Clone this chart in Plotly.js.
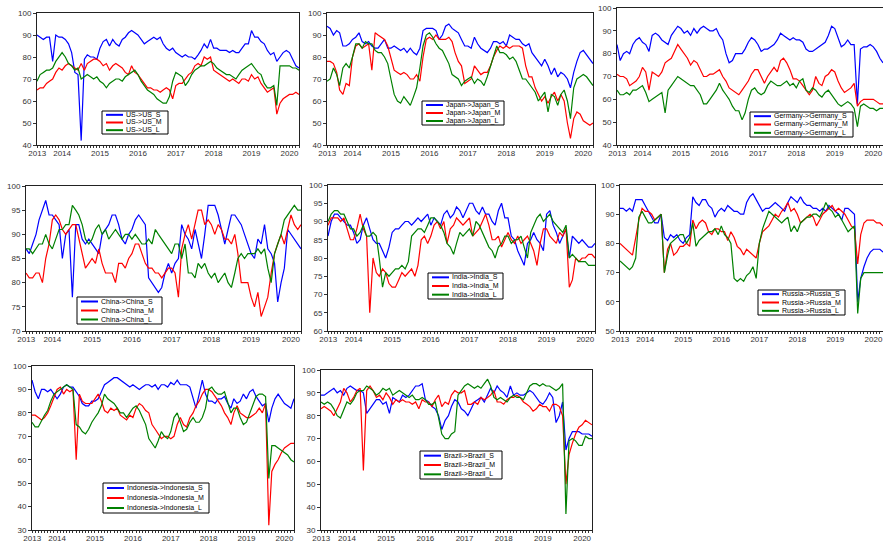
<!DOCTYPE html>
<html>
<head>
<meta charset="utf-8">
<script src="https://cdn.plot.ly/plotly-3.0.1.min.js"></script>
<style>
  html, body { margin: 0; padding: 0; background: #fff; }
  #chart { width: 883px; height: 546px; }
</style>
</head>
<body>
<div id="chart"></div>
<script>
// Monthly readings, Nov 2013 .. Oct 2020 (84 points per series)
const US_S = [90,89,88,89,89,78,90,89, 89,88,86,82,73,72,42,79,81,80,80,79, 84,87,88,85,88,86,85,88,89,91,92,91, 90,88,86,87,88,89,88,89,86,84,83,84, 82,81,80,81,80,80,79,81,83,86,84,88, 84,84,83,83,83,82,83,82,82,84,86,86, 92,89,89,87,86,83,81,82,78,80,82,83, 82,79,76,75];
const US_M = [65,66,66,68,69,70,73,75, 74,76,77,76,75,74,77,74,77,78,79,79, 78,76,77,74,76,77,76,75,73,72,76,73, 72,70,68,66,66,65,65,64,65,66,65,61, 67,68,68,70,72,73,76,77,76,80,79,80, 74,73,72,71,70,69,70,69,68,70,70,69, 72,70,71,68,66,64,65,66,54,59,61,62, 63,63,64,63];
const US_L = [69,72,73,74,74,75,78,80, 82,80,77,76,74,75,70,71,72,71,70,71, 69,68,66,68,69,70,70,69,71,72,73,74, 72,69,67,65,64,63,61,60,59,59,62,69, 73,72,71,67,69,72,74,75,76,76,77,78, 77,75,74,73,72,72,71,70,72,74,75,76, 77,75,73,72,68,66,66,67,58,76,76,76, 76,75,75,74];

const Japan_S = [94,93,90,92,91,85,85,86, 88,89,91,87,86,87,85,84,84,86,88,84, 84,85,84,83,84,82,84,82,81,84,92,93, 93,93,92,88,90,94,95,93,92,91,88,85, 85,84,89,86,84,83,82,84,87,87,86,87, 85,90,89,88,88,86,85,86,82,80,78,76, 79,76,72,75,71,73,72,70,66,73,78,82, 83,81,79,77];
const Japan_M = [78,78,77,73,65,63,68,67, 80,85,86,84,85,86,74,91,90,89,88,85, 80,74,73,72,73,72,70,70,72,69,80,88, 89,88,90,88,88,88,89,87,82,78,76,68, 69,70,76,74,72,73,73,76,80,83,85,84, 85,84,85,85,85,84,76,71,71,66,63,60, 62,59,62,64,60,63,60,50,43,52,55,54, 51,50,49,50];
const Japan_L = [69,70,75,72,67,75,77,75, 80,86,86,84,87,86,86,83,82,82,80,77, 70,63,60,59,62,60,58,62,66,75,85,90, 91,89,86,84,83,80,77,72,71,70,67,69, 70,71,68,70,69,67,71,76,80,85,82,82, 81,79,80,78,74,70,70,68,66,64,60,62, 64,55,63,62,58,63,65,60,52,66,70,71, 72,71,69,67];

const Germany_S = [84,77,80,81,80,84,86,87, 85,84,81,88,89,88,86,85,84,88,90,92, 91,89,90,88,91,89,91,92,91,90,90,91, 88,86,80,76,77,80,80,80,82,85,87,86, 84,81,82,82,83,84,86,89,88,87,86,87, 86,86,85,82,81,81,82,83,84,85,88,92, 91,87,83,84,86,84,84,58,82,83,83,84, 83,81,78,76];
const Germany_M = [71,70,70,69,66,67,68,70, 74,72,64,72,71,70,72,76,77,78,81,84, 82,80,78,75,77,76,73,70,70,71,71,72, 73,70,68,65,64,63,62,64,66,68,71,73, 73,70,67,70,72,74,72,77,78,76,73,69, 69,68,66,64,62,64,70,67,66,70,71,73, 72,68,65,63,64,65,67,57,59,60,60,60, 60,59,58,58];
const Germany_L = [64,62,62,63,62,64,64,65, 66,63,59,60,61,62,63,54,64,66,68,70, 69,68,67,66,66,64,62,58,58,60,62,64, 67,64,62,60,57,55,55,51,54,60,64,65, 63,62,63,66,68,67,66,66,67,68,66,67, 65,68,69,64,63,65,64,62,61,63,64,62, 60,58,57,58,59,58,56,48,57,58,57,56, 56,55,56,56];

const China_S = [87,86,88,90,93,95,97,94, 94,93,92,85,90,91,77,92,92,89,88,89, 88,87,86,90,91,92,94,94,92,89,88,90, 91,93,94,93,92,81,80,79,78,79,82,84, 82,84,85,92,90,89,87,91,88,85,90,96, 96,96,94,91,88,91,94,94,93,92,90,88, 86,85,89,88,92,87,86,84,76,80,83,91, 90,89,88,87];
const China_M = [82,81,81,82,82,80,85,88, 93,94,93,91,90,91,92,92,89,86,83,84, 85,84,87,84,82,82,82,80,84,84,83,85, 86,88,88,86,84,83,83,82,82,81,82,83, 83,82,77,87,90,92,89,92,95,95,92,93, 92,90,92,91,89,89,88,90,86,80,80,80, 77,75,78,73,75,77,82,86,88,90,88,91, 94,92,91,92];
const China_L = [87,87,86,87,88,88,90,88, 87,89,91,91,92,92,96,95,94,92,89,88, 89,91,92,90,91,89,90,91,90,89,90,90, 89,90,89,88,88,89,88,91,90,89,88,87, 86,88,88,85,88,82,82,81,84,83,84,82, 81,82,80,81,82,80,79,82,85,86,85,86, 86,86,87,86,87,83,80,86,88,90,93,94, 95,96,95,95];

const India_S = [86,90,92,92,91,90,89,89, 87,84,85,89,91,88,85,84,84,82,80,83, 87,88,88,89,90,90,89,90,91,90,91,92, 89,91,90,89,92,93,91,92,94,93,91,93, 95,95,93,92,94,92,92,90,89,93,95,91, 91,86,85,82,80,78,84,85,87,85,84,82, 92,93,89,87,84,86,88,80,86,85,84,85, 84,83,83,84];
const India_M = [89,91,91,91,90,91,88,85, 85,88,92,88,86,65,80,76,75,77,76,73, 72,72,74,76,75,76,77,75,78,85,86,84, 86,89,90,88,90,84,88,89,91,90,89,90, 91,86,87,88,90,92,89,85,85,86,83,85, 87,85,84,86,84,85,86,84,82,78,84,88, 88,86,85,84,87,86,88,72,74,80,79,80, 80,81,81,80];
const India_L = [90,92,93,93,92,92,90,88, 88,86,87,89,86,86,87,86,80,72,76,75, 76,77,77,78,77,79,86,87,88,88,87,89, 91,91,90,89,87,84,83,81,84,87,86,87, 88,86,90,89,87,85,83,82,80,83,84,86, 86,84,85,85,86,83,80,87,89,91,92,90, 91,92,90,89,88,87,89,80,81,80,79,79, 79,78,78,78];

const Russia_S = [92,92,91,92,91,95,95,95, 93,91,89,87,87,90,82,81,83,82,83,81, 80,82,83,96,94,93,95,95,93,92,89,91, 92,91,93,92,91,91,90,90,94,96,97,95, 93,91,92,92,93,94,93,92,91,94,96,95, 94,96,94,93,93,92,92,91,92,91,93,92, 91,90,88,92,92,91,90,60,68,72,75,77, 78,78,78,77];
const Russia_M = [80,79,78,77,76,82,88,92, 91,91,90,88,89,90,70,78,80,76,77,79, 79,80,79,88,85,87,88,87,84,83,85,85, 84,84,81,84,82,79,78,76,78,77,76,75, 80,84,85,86,88,90,89,91,92,94,91,92, 90,87,88,89,90,89,86,88,90,91,92,93, 91,92,91,90,88,86,85,73,83,87,88,88, 88,87,87,86];
const Russia_L = [74,73,72,71,72,75,89,91, 89,87,87,88,89,90,70,76,80,81,82,83, 83,80,82,87,79,81,82,83,84,84,85,83, 86,83,82,80,68,67,68,67,69,70,72,68, 80,85,88,91,90,89,88,87,88,89,84,86, 84,87,88,89,89,90,90,89,91,94,92,91, 89,90,88,86,84,85,86,56,68,70,70,70, 70,70,70,70];

const Indonesia_S = [94,89,86,90,90,89,90,88, 86,88,91,92,91,91,89,87,84,83,83,85, 85,86,89,92,93,94,95,95,94,93,92,91, 92,91,90,91,92,92,91,92,90,92,92,91, 93,92,94,92,92,92,91,86,82,88,94,88, 85,85,84,86,86,87,84,82,86,84,85,88, 86,89,90,87,85,83,84,76,82,86,88,86, 84,83,82,86];
const Indonesia_M = [79,79,78,77,78,80,83,87, 90,91,88,90,89,90,60,88,85,84,84,84, 86,88,85,81,80,82,81,82,79,78,77,79, 78,82,84,83,81,80,75,73,71,69,70,70, 69,70,75,78,75,74,78,80,83,85,88,90, 90,89,87,85,83,80,78,75,80,83,80,79, 78,78,79,80,82,80,84,32,55,58,60,63, 65,66,67,67];
const Indonesia_L = [76,74,74,77,79,81,85,88, 89,90,91,92,91,90,75,74,72,71,73,76, 78,80,83,88,86,85,84,82,80,80,78,80, 82,83,81,78,75,69,67,65,68,72,70,69, 72,78,80,76,72,73,76,78,76,76,78,82, 90,91,89,88,88,89,84,80,82,82,78,75, 76,80,84,87,88,88,87,52,66,66,65,64, 63,62,60,59];

const Brazil_S = [89,89,90,91,92,90,91,89, 92,93,92,91,91,90,81,83,85,87,87,85, 86,81,88,87,86,89,88,89,91,93,93,94, 87,86,84,83,80,74,78,80,84,87,86,83, 82,80,83,86,87,88,86,89,92,90,93,91, 90,88,93,89,90,89,89,90,91,90,88,86, 85,87,90,88,77,80,86,65,70,73,73,73, 72,72,72,71];
const Brazil_M = [83,84,83,82,80,83,86,92, 90,86,88,91,92,56,91,93,91,88,89,87, 90,88,85,87,86,87,86,86,85,86,83,87, 86,86,84,87,89,84,86,85,89,91,90,90, 91,85,85,86,85,88,87,88,89,91,86,86, 85,87,88,88,89,88,86,85,84,82,83,85, 84,84,82,85,85,84,80,50,63,68,72,75, 76,78,77,76];
const Brazil_L = [86,85,86,85,83,80,79,83, 86,85,87,90,91,91,93,92,91,89,90,92, 91,92,89,90,91,90,89,88,89,87,87,88, 87,85,85,86,79,72,70,70,72,73,89,91, 93,94,93,92,93,92,94,96,93,88,87,88, 87,86,88,89,88,88,87,90,93,94,94,93, 94,93,93,92,91,92,94,37,69,70,69,67, 67,71,70,70];

const countries = ['US', 'Japan', 'Germany', 'China', 'India', 'Russia', 'Indonesia', 'Brazil'];
const horizons = ['S', 'M', 'L'];
const seriesByCountry = {
  US: [US_S, US_M, US_L],
  Japan: [Japan_S, Japan_M, Japan_L],
  Germany: [Germany_S, Germany_M, Germany_L],
  China: [China_S, China_M, China_L],
  India: [India_S, India_M, India_L],
  Russia: [Russia_S, Russia_M, Russia_L],
  Indonesia: [Indonesia_S, Indonesia_M, Indonesia_L],
  Brazil: [Brazil_S, Brazil_M, Brazil_L]
};
const yearLabels = ['2013', '2014', '2015', '2016', '2017', '2018', '2019', '2020'];

// month axis: first observation Nov 2013
const months = [];
for (let i = 0; i < US_S.length; i++) {
  months.push(new Date(Date.UTC(2013, 10 + i, 1)).toISOString().slice(0, 10));
}

const W = 883, H = 546;
const lineColors = ['#0000ff', '#ff0000', '#008000'];
const FONT = 'Liberation Sans, Arial, Helvetica, sans-serif';

// panel geometry in pixels: [left, top, right, bottom]; legend box [left, top, width, height]
const panelSpec = [
  { box: [37, 13, 299, 145],  yr: [40, 100], dt: 10, leg: [102, 111, 66, 23], fs: 7, rightLine: true },
  { box: [327, 13, 593, 145], yr: [40, 100], dt: 10, leg: [422, 101, 82, 24], fs: 7, rightLine: true },
  { box: [617, 8, 883, 145],  yr: [40, 100], dt: 10, leg: [750, 112, 103, 25], fs: 7, rightLine: false },
  { box: [26, 186, 301, 331], yr: [70, 100], dt: 5,  leg: [77, 297, 85, 27], fs: 7, rightLine: true },
  { box: [328, 185, 595, 331], yr: [60, 100], dt: 5, leg: [428, 273, 75, 26], fs: 7, rightLine: true },
  { box: [620, 185, 883, 331], yr: [50, 100], dt: 10, leg: [758, 290, 87, 25], fs: 7, rightLine: false },
  { box: [32, 366, 294, 530], yr: [30, 100], dt: 10, leg: [103, 483, 106, 30], fs: 7, rightLine: true },
  { box: [321, 370, 592, 530], yr: [30, 100], dt: 10, leg: [420, 451, 82, 28], fs: 7, rightLine: true }
];

const px = x => x / W;
const py = y => 1 - y / H;

const tickvals = ['2013-11-03'];
for (let y = 2014; y <= 2020; y++) tickvals.push(y + '-07-01');

const data = [];
const layout = {
  width: W, height: H,
  margin: { l: 0, r: 0, t: 0, b: 0 },
  paper_bgcolor: '#ffffff',
  plot_bgcolor: '#ffffff',
  showlegend: false,
  shapes: [],
  annotations: []
};

countries.forEach((c, k) => {
  const spec = panelSpec[k];
  const n = k + 1;
  const xa = 'xaxis' + (n === 1 ? '' : n);
  const ya = 'yaxis' + (n === 1 ? '' : n);
  const xr = 'x' + (n === 1 ? '' : n);
  const yrf = 'y' + (n === 1 ? '' : n);
  const [l, t, r, b] = spec.box;

  layout[xa] = {
    type: 'date',
    domain: [px(l), px(r)],
    anchor: yrf,
    range: [months[0], months[months.length - 1]],
    tickmode: 'array',
    tickvals: tickvals,
    ticktext: yearLabels,
    ticks: '',
    minor: { tickmode: 'linear', tick0: '2013-01-01', dtick: 'M1', ticks: 'outside', ticklen: 2, tickcolor: '#333', tickwidth: 1 },
    showgrid: false, zeroline: false,
    showline: true, mirror: true, linecolor: '#222', linewidth: 1,
    tickfont: { family: FONT, size: 8, color: '#333' },
    fixedrange: true
  };
  layout[ya] = {
    domain: [py(b), py(t)],
    anchor: xr,
    range: spec.yr,
    tickmode: 'linear', tick0: 0, dtick: spec.dt,
    ticks: 'outside', ticklen: 3, tickcolor: '#333',
    showgrid: false, zeroline: false,
    showline: true, mirror: spec.rightLine, linecolor: '#222', linewidth: 1,
    tickfont: { family: FONT, size: 8, color: '#333' },
    fixedrange: true
  };

  seriesByCountry[c].forEach((vals, j) => {
    data.push({
      type: 'scatter', mode: 'lines',
      x: months, y: vals,
      xaxis: xr, yaxis: yrf,
      name: c + '->' + c + '_' + horizons[j],
      line: { color: lineColors[j], width: 1.2 },
      hoverinfo: 'skip'
    });
  });

  // framed legend box with three short line samples
  const [lx, ly, lw, lh] = spec.leg;
  layout.shapes.push({
    type: 'rect', xref: 'paper', yref: 'paper',
    x0: px(lx), x1: px(lx + lw), y0: py(ly + lh), y1: py(ly),
    line: { color: '#000', width: 1 }, fillcolor: '#fff', layer: 'above'
  });
  horizons.forEach((h, j) => {
    const rowY = ly + lh * (j + 0.5) / 3;
    layout.shapes.push({
      type: 'line', xref: 'paper', yref: 'paper',
      x0: px(lx + 4), x1: px(lx + 21), y0: py(rowY), y1: py(rowY),
      line: { color: lineColors[j], width: 2 }, layer: 'above'
    });
    layout.annotations.push({
      xref: 'paper', yref: 'paper', x: px(lx + 22), y: py(rowY),
      xanchor: 'left', yanchor: 'middle', showarrow: false,
      text: c + '->' + c + '_' + h,
      font: { family: FONT, size: spec.fs, color: '#000' }
    });
  });
});

Plotly.newPlot('chart', data, layout, { staticPlot: true, displayModeBar: false });
</script>
</body>
</html>
